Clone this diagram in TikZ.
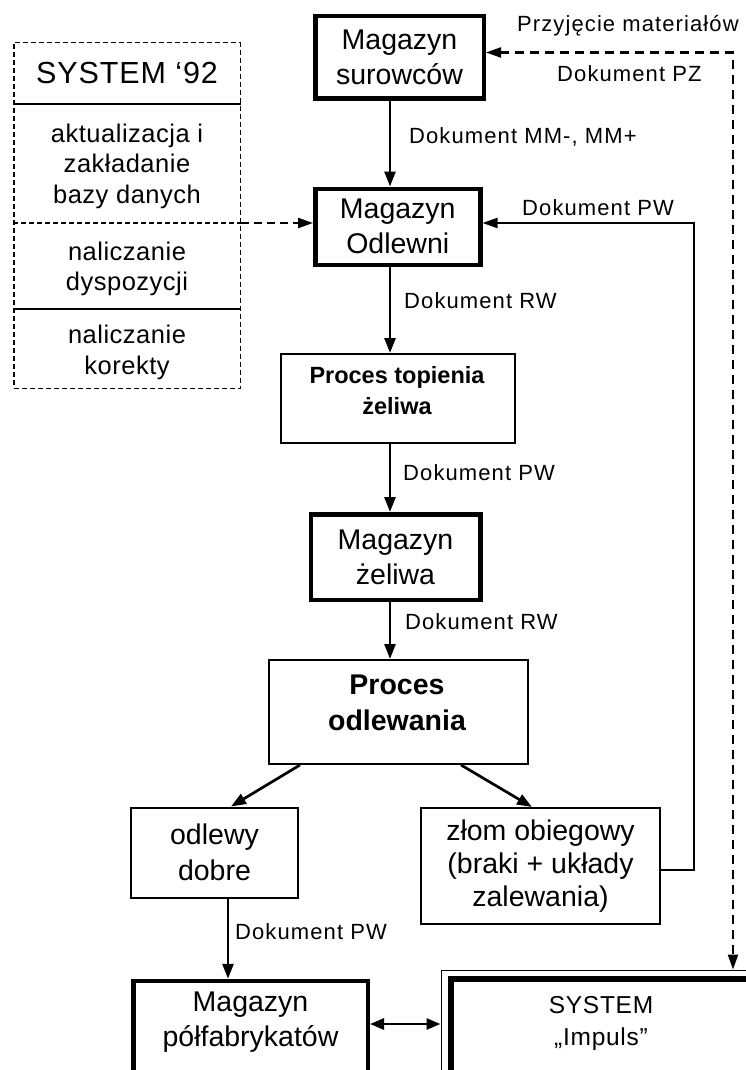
\documentclass[tikz,border=0pt]{standalone}
\usepackage{fontspec}
\setmainfont{Liberation Sans}
\newfontfamily\labfont[LetterSpace=5]{Liberation Sans}
\newfontfamily\sysfont[LetterSpace=3]{Liberation Sans}
\newfontfamily\subfont[LetterSpace=2]{Liberation Sans}
\usetikzlibrary{arrows.meta,calc}
\tikzset{
  thickbox/.style={draw, line width=4.5pt, inner sep=0pt, align=center,
    font=\fontsize{28.5}{35}\selectfont},
  thinbox/.style={draw, line width=2pt, inner sep=0pt, align=center,
    font=\fontsize{28.5}{35}\selectfont},
  lab/.style={inner sep=0pt, anchor=base west, font=\labfont\fontsize{22}{26}\selectfont},
  subtxt/.style={inner sep=0pt, align=center, font=\subfont\fontsize{25.5}{30.5}\selectfont},
  arr/.style={line width=2.7pt, -{Triangle[length=15pt,width=11pt]}},
  fbarr/.style={line width=2pt, -{Triangle[length=15pt,width=10pt]}},
  dasharr/.style={line width=2.2pt, dash pattern=on 9pt off 6pt,
    {Triangle[length=15pt,width=10pt]}-{Triangle[length=15pt,width=10pt]}},
  ldasharr/.style={line width=2.2pt, dash pattern=on 8pt off 5pt, -{Triangle[length=15pt,width=10pt]}},
  dblarr/.style={line width=2.7pt, {Triangle[length=14pt,width=11pt]}-{Triangle[length=14pt,width=11pt]}},
}
\begin{document}
\begin{tikzpicture}[x=1pt,y=-1pt]
\useasboundingbox (0,0) rectangle (746,1070);
\clip (0,0) rectangle (746,1070);

% helper coordinates
\coordinate (col) at (390,0);
\coordinate (col2) at (228,0);
\coordinate (dl) at (300,0);
\coordinate (dlt) at (231,0);
\coordinate (dr) at (461,0);
\coordinate (drt) at (532,0);
\coordinate (ly) at (0,223);
\coordinate (fbtop) at (694,223);
\coordinate (pzc) at (733,52.5);
\coordinate (da) at (0,1024);

% main boxes
\node[thickbox, minimum width=168.5, minimum height=82.5] (sur) at (399.5,57.5) {Magazyn\\surowców};
\node[thickbox, minimum width=165, minimum height=76] (odl) at (397.75,226.75) {Magazyn\\Odlewni};
\node[thinbox, minimum width=234, minimum height=88.5] (top) at (397.5,398.25) {};
\node[inner sep=0pt, align=center, font=\bfseries\fontsize{23.5}{31}\selectfont] (toptxt) at (397,391) {Proces topienia\\żeliwa};
\node[thickbox, minimum width=169.5, minimum height=85.5] (zel) at (395.5,557) {Magazyn\\żeliwa};
\node[thinbox, minimum width=259, minimum height=104] (odlew) at (398,712) {};
\node[inner sep=0pt, align=center, font=\bfseries\fontsize{28.5}{36.5}\selectfont] (odtxt) at (397,703) {Proces\\odlewania};
\node[thinbox, minimum width=167, minimum height=90, font=\fontsize{28.5}{36.5}\selectfont] (dobre) at (214.5,852.5) {odlewy\\dobre};
\node[thinbox, minimum width=239, minimum height=116, font=\fontsize{28.5}{33}\selectfont] (zlom) at (540.5,866) {złom obiegowy\\(braki + układy\\zalewania)};
\node[thickbox, minimum width=234.5, minimum height=200, anchor=north] (polf) at (250.5,978.75) {};
\node[inner sep=0pt, align=center, font=\fontsize{28.5}{35}\selectfont] (polftxt) at (250.5,1022) {Magazyn\\półfabrykatów};

% SYSTEM Impuls (double border)
\node[draw, line width=1.5pt, inner sep=0pt, minimum width=400, minimum height=200, anchor=north west] (sysout) at (440.5,969.5) {};
\node[draw, line width=6pt, inner sep=0pt, minimum width=400, minimum height=200, anchor=north west] (sysin) at (448,976) {};
\node[inner sep=0pt, align=center, font=\sysfont\fontsize{24.5}{32}\selectfont] (systxt) at (601,1023.5) {SYSTEM\\„Impuls”};

% SYSTEM '92 box
\node[draw, line width=1.5pt, dash pattern=on 5pt off 3pt, inner sep=0pt, minimum width=226.5, minimum height=345.5] (s92) at (127,215.5) {};
\draw[line width=1.2pt] (s92.west |- 0,104) -- (s92.east |- 0,104);
\draw[line width=1.5pt, dash pattern=on 5pt off 3pt] (s92.west |- ly) -- (s92.east |- ly);
\draw[line width=1.2pt] (s92.west |- 0,309) -- (s92.east |- 0,309);
\node[inner sep=0pt, font=\sysfont\fontsize{30.5}{34}\selectfont] (s92t) at (127,73) {SYSTEM ‘92};
\node[subtxt] (c1) at (127,166) {aktualizacja i\\zakładanie\\bazy danych};
\node[subtxt] (c2) at (127,269) {naliczanie\\dyspozycji};
\node[subtxt] (c3) at (127,352.5) {naliczanie\\korekty};

% connectors
\draw[arr] (sur.south -| col) -- (odl.north -| col);
\draw[arr] (odl.south -| col) -- (top.north -| col);
\draw[arr] (top.south -| col) -- (zel.north -| col);
\draw[arr] (zel.south -| col) -- (odlew.north -| col);
\draw[arr] (odlew.south -| dl) -- (dobre.north -| dlt);
\draw[arr] (odlew.south -| dr) -- (zlom.north -| drt);
\draw[arr] (dobre.south -| col2) -- (polf.north -| col2);
\draw[dblarr] (polf.east |- da) -- (sysout.west |- da);
\draw[fbarr] ([yshift=-4pt]zlom.east) -| (fbtop) -- (odl.east |- fbtop);
\draw[dasharr] (sur.east |- pzc) -- (pzc) -- (pzc |- sysout.north);
\draw[ldasharr] (s92.east |- ly) -- (odl.west |- ly);

% labels
\node[lab] (l1) at (517,31.7) {Przyjęcie materiałów};
\node[lab] (l2) at (557,81.7) {Dokument PZ};
\node[lab] (l3) at (409,143.3) {Dokument MM-, MM+};
\node[lab] (l4) at (522,215) {Dokument PW};
\node[lab] (l5) at (404,308) {Dokument RW};
\node[lab] (l6) at (403,480.7) {Dokument PW};
\node[lab] (l7) at (405,629) {Dokument RW};
\node[lab] (l8) at (235,939.3) {Dokument PW};
\end{tikzpicture}
\end{document}
